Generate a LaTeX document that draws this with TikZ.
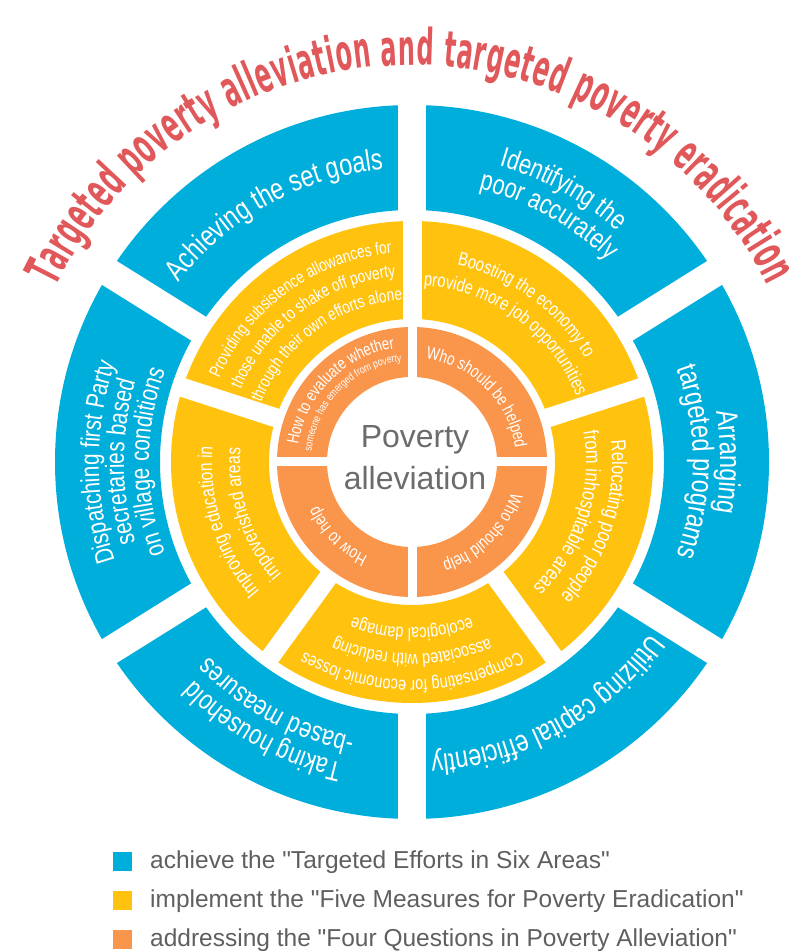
\documentclass[tikz,border=0pt]{standalone}
\usepackage{fontspec}
\setmainfont{Liberation Sans}
\newfontfamily\ringfont{Liberation Sans}[FakeStretch=0.78]
\newfontfamily\titlefont{DejaVu Sans}[FakeStretch=0.48]
\usetikzlibrary{calc,decorations.text}

\definecolor{sixblue}{RGB}{0,174,219}
\definecolor{fiveyellow}{RGB}{255,194,14}
\definecolor{fourorange}{RGB}{250,150,76}
\definecolor{titlered}{RGB}{224,88,90}
\definecolor{hubgray}{RGB}{108,108,108}
\definecolor{keygray}{RGB}{95,95,95}

% one line of white text set clockwise along a circle round C
% #1 middle angle, #2 baseline radius, #3 font size, #4 text
\newcommand\arcline[4]{%
  \path[decorate,decoration={text along path,text align=center,text color=white,
      text={|\ringfont\fontsize{#3}{#3}\selectfont|#4}}]
    ($(C)+(#1+75:#2)$) arc[start angle=#1+75,end angle=#1-75,radius=#2];}

\tikzset{
  ringgap/.style={draw=white,line width=#1},
  keybox/.style={minimum size=19pt,inner sep=0pt,outer sep=0pt},
  keytext/.style={anchor=base west,inner sep=0pt,text=keygray,
                  font=\fontsize{24.5}{24.5}\selectfont},
  hubtext/.style={anchor=base,inner sep=0pt,text=hubgray,
                  font=\fontsize{32}{32}\selectfont}
}

\begin{document}
\begin{tikzpicture}[x=1pt,y=1pt]
\useasboundingbox (0,0) rectangle (803,951);
\coordinate (C) at (412,489);

% the three rings
\fill[sixblue,even odd rule] (C) circle[radius=357] (C) circle[radius=252];
\fill[fiveyellow,even odd rule] (C) circle[radius=241] (C) circle[radius=143];
\fill[fourorange,even odd rule] (C) circle[radius=135] (C) circle[radius=85];

% white cuts between the segments
\foreach \a in {90,32,-32,-90,-148,148}
  \draw[ringgap=28pt] ($(C)+(\a:245)$) -- ($(C)+(\a:366)$);
\foreach \a in {90,18,-54,-126,162}
  \draw[ringgap=19pt] ($(C)+(\a:138)$) -- ($(C)+(\a:246)$);
\foreach \a in {0,90,180,270}
  \draw[ringgap=9pt] ($(C)+(\a:78)$) -- ($(C)+(\a:139)$);

% title along the top
\path[decorate,decoration={text along path,text align={fit to path},text color=titlered,
    text={|\titlefont\bfseries\fontsize{50}{50}\selectfont|Targeted poverty alleviation and targeted poverty eradication}}]
  ($(C)+(154:397)$) arc[start angle=154,end angle=26.5,radius=397];

% outer ring: six areas
\arcline{119}{294}{30}{Achieving the set goals}
\arcline{61}{309}{28}{Identifying the}
\arcline{61}{281}{28}{poor accurately}
\arcline{0}{308}{30}{Arranging}
\arcline{0}{281}{30}{targeted programs}
\arcline{-61}{294}{30}{Utilizing capital efficiently}
\arcline{-119}{309}{28}{Taking household}
\arcline{-119}{281}{28}{-based measures}
\arcline{180}{313}{26.5}{Dispatching first Party}
\arcline{180}{288}{26.5}{secretaries based}
\arcline{180}{263}{26.5}{on village conditions}

% middle ring: five measures
\arcline{126}{210}{17.5}{Providing subsistence allowances for}
\arcline{126}{186}{17.5}{those unable to shake off poverty}
\arcline{126}{162}{17.5}{through their own efforts alone}
\arcline{54}{202}{19}{Boosting the economy to}
\arcline{54}{177}{19}{provide more job opportunities}
\arcline{-18}{200}{21}{Relocating poor people}
\arcline{-18}{174}{21}{from inhospitable areas}
\arcline{-90}{218}{18.5}{Compensating for economic losses}
\arcline{-90}{192}{18.5}{associated with reducing}
\arcline{-90}{166}{18.5}{ecological damage}
\arcline{198}{200}{20}{Improving education in}
\arcline{198}{172}{20}{impoverished areas}

% inner ring: four questions
\arcline{135}{115}{17}{How to evaluate whether}
\arcline{135}{101}{11}{someone has emerged from poverty}
\arcline{45}{104}{17.5}{Who should be helped}
\arcline{-45}{104}{17.5}{Who should help}
\arcline{-135}{104}{17.5}{How to help}

% hub
\node[hubtext] (hubtop) at (415,503) {Poverty};
\node[hubtext] (hubbottom) at (415,461) {alleviation};

% key
\node[keybox,fill=sixblue] (keyblue) at (122.5,89.5) {};
\node[keybox,fill=fiveyellow] (keyyellow) at (122.5,50.5) {};
\node[keybox,fill=fourorange] (keyorange) at (122.5,11.5) {};
\node[keytext] (keybluetext) at (150,82)
  {achieve the \textquotedbl Targeted Efforts in Six Areas\textquotedbl};
\node[keytext] (keyyellowtext) at (150,43)
  {implement the \textquotedbl Five Measures for Poverty Eradication\textquotedbl};
\node[keytext] (keyorangetext) at (150,5)
  {addressing the \textquotedbl Four Questions in Poverty Alleviation\textquotedbl};
\end{tikzpicture}
\end{document}
